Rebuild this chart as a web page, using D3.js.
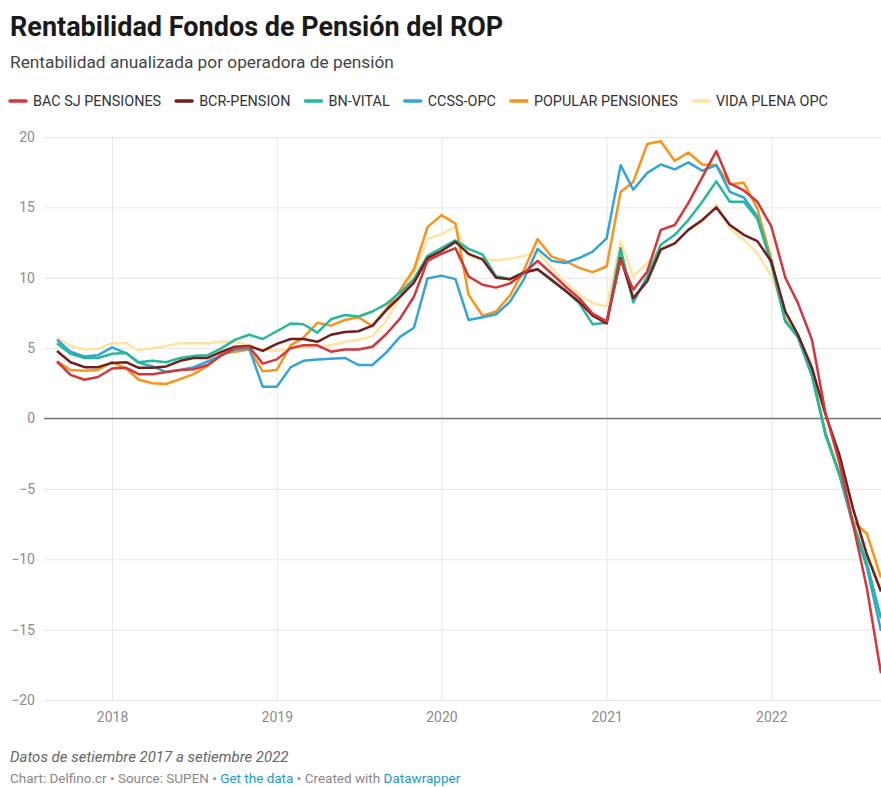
<!DOCTYPE html>
<html>
<head>
<meta charset="utf-8">
<script src="https://cdn.jsdelivr.net/npm/d3@7"></script>
<style>
  body { margin: 0; background: #fff; font-family: Roboto, "Noto Sans", sans-serif; }
  svg text { font-family: Roboto, "Noto Sans", sans-serif; }
</style>
</head>
<body>
<svg id="chart" width="881" height="787"></svg>
<script>
// monthly data, setiembre 2017 .. setiembre 2022
const firstMonth = new Date(2017, 8, 1);
const lastMonth = new Date(2022, 8, 1);

const seriesNames = ["BAC SJ PENSIONES", "BCR-PENSION", "BN-VITAL", "CCSS-OPC", "POPULAR PENSIONES", "VIDA PLENA OPC"];
const seriesColors = ["#d1373b", "#6e1f1c", "#27b799", "#32a5d6", "#f7941d", "#ffe3a3"];

const bacSj = [4.05, 3.1, 2.75, 2.95, 3.55, 3.6, 3.15, 3.15, 3.3, 3.45, 3.5, 3.8, 4.5,
  5.0, 5.1, 3.9, 4.2, 5.0, 5.2, 5.2, 4.75, 4.9, 4.9, 5.1, 6.0,
  7.1, 8.65, 11.2, 11.7, 12.1, 10.1, 9.5, 9.3, 9.6, 10.3, 11.2, 10.3,
  9.4, 8.55, 7.45, 6.9, 11.3, 9.15, 10.45, 13.4, 13.75, 15.3, 17.15, 19.0,
  16.7, 16.2, 15.4, 13.65, 10.0, 8.2, 5.6, 0.4, -3.15, -7.5, -12.1, -18.1];
const bcrPension = [4.8, 4.0, 3.65, 3.65, 3.95, 4.0, 3.6, 3.6, 3.7, 4.1, 4.3, 4.3, 4.75,
  5.1, 5.15, 4.8, 5.3, 5.65, 5.65, 5.45, 5.95, 6.15, 6.2, 6.6, 7.7,
  8.65, 9.65, 11.4, 11.9, 12.55, 11.7, 11.3, 10.0, 9.9, 10.35, 10.6, 9.85,
  9.1, 8.3, 7.3, 6.75, 11.4, 8.55, 9.75, 12.0, 12.45, 13.4, 14.1, 15.0,
  13.75, 13.05, 12.6, 11.15, 7.6, 5.95, 3.6, 0.3, -2.6, -6.4, -9.7, -12.3];
const bnVital = [5.35, 4.6, 4.3, 4.3, 4.6, 4.65, 4.0, 4.1, 4.0, 4.3, 4.45, 4.5, 5.0,
  5.6, 5.95, 5.65, 6.2, 6.75, 6.7, 6.1, 7.05, 7.35, 7.25, 7.6, 8.15,
  8.95, 9.9, 11.55, 12.1, 12.65, 12.05, 11.65, 10.1, 9.9, 10.4, 10.6, 9.8,
  9.1, 8.2, 6.7, 6.8, 12.1, 8.25, 10.1, 12.35, 13.05, 14.1, 15.4, 16.85,
  15.4, 15.4, 14.2, 11.0, 6.9, 5.85, 3.2, -1.2, -4.0, -7.4, -10.3, -14.2];
const ccssOpc = [5.6, 4.75, 4.4, 4.5, 5.05, 4.65, 3.95, 3.7, 3.3, 3.45, 3.65, 4.05, 4.5,
  4.9, 4.95, 2.25, 2.25, 3.65, 4.1, 4.2, 4.25, 4.3, 3.8, 3.8, 4.7,
  5.8, 6.45, 9.95, 10.15, 9.9, 7.0, 7.2, 7.4, 8.3, 9.85, 12.05, 11.2,
  11.05, 11.4, 11.85, 12.8, 18.0, 16.25, 17.45, 18.05, 17.7, 18.2, 17.6, 18.0,
  16.1, 15.7, 14.35, 11.0, 6.9, 5.75, 3.0, -1.1, -4.0, -7.6, -10.6, -15.1];
const popularPensiones = [4.05, 3.45, 3.4, 3.45, 4.0, 3.55, 2.75, 2.5, 2.45, 2.8, 3.15, 3.75, 4.6,
  4.75, 4.9, 3.35, 3.45, 5.2, 5.75, 6.8, 6.6, 7.0, 7.2, 6.55, 7.8,
  9.1, 10.6, 13.6, 14.45, 13.85, 8.8, 7.3, 7.6, 8.75, 10.5, 12.75, 11.5,
  11.2, 10.7, 10.4, 10.8, 16.1, 16.8, 19.5, 19.7, 18.3, 18.9, 18.05, 18.0,
  16.65, 16.75, 14.9, 11.3, 7.0, 5.8, 3.1, -1.0, -3.9, -7.3, -8.2, -11.3];
const vidaPlena = [5.75, 5.15, 4.9, 4.95, 5.35, 5.35, 4.85, 5.0, 5.15, 5.35, 5.35, 5.35, 5.45,
  5.45, 5.2, 4.9, 4.8, 4.95, 5.1, 5.1, 5.2, 5.45, 5.6, 5.85, 6.95,
  8.6, 10.35, 12.75, 13.1, 13.6, 11.6, 11.3, 11.25, 11.35, 11.55, 11.85, 10.7,
  9.7, 8.85, 8.2, 7.95, 12.6, 10.1, 11.05, 12.1, 12.45, 13.4, 14.0, 15.2,
  13.5, 12.7, 11.75, 10.1, 7.4, 5.8, 3.2, -1.0, -3.9, -7.4, -9.6, -12.0];

const seriesValues = [bacSj, bcrPension, bnVital, ccssOpc, popularPensiones, vidaPlena];

const yTicks = [-20, -15, -10, -5, 0, 5, 10, 15, 20];
const xTickYears = [2018, 2019, 2020, 2021, 2022];

const svg = d3.select("#chart");
const plotLeft = 44, plotRight = 881, plotTop = 137, plotBottom = 700;

// title block
svg.append("text").attr("x", 10).attr("y", 36)
  .attr("font-size", 27).attr("font-weight", 700).attr("fill", "#1a1a1a")
  .text("Rentabilidad Fondos de Pensión del ROP");
svg.append("text").attr("x", 10).attr("y", 68)
  .attr("font-size", 17.3).attr("fill", "#444")
  .text("Rentabilidad anualizada por operadora de pensión");

// legend
const legend = svg.append("g").attr("transform", "translate(10,101)");
let lx = 0;
seriesNames.forEach((name, i) => {
  const g = legend.append("g").attr("transform", `translate(${lx},0)`);
  g.append("line").attr("x1", 0).attr("x2", 16).attr("y1", 0).attr("y2", 0)
    .attr("stroke", seriesColors[i]).attr("stroke-width", 3.5).attr("stroke-linecap", "round");
  const t = g.append("text").attr("x", 23).attr("y", 5)
    .attr("font-size", 14.4).attr("fill", "#333").text(name);
  lx += 23 + t.node().getComputedTextLength() + 15;
});

const x = d3.scaleTime().domain([firstMonth, lastMonth]).range([57, plotRight]);
const y = d3.scaleLinear().domain([-20, 20]).range([plotBottom, plotTop]);

// y grid + labels
const yAxis = svg.append("g").attr("transform", `translate(${plotLeft},0)`)
  .call(d3.axisLeft(y).tickValues(yTicks).tickSize(-(plotRight - plotLeft)).tickFormat(d => d < 0 ? "\u2212" + Math.abs(d) : d));
yAxis.select(".domain").remove();
yAxis.selectAll(".tick line").attr("stroke", "#e6e6e6").attr("stroke-width", 1);
yAxis.selectAll(".tick text").attr("x", -9).attr("font-size", 14).attr("fill", "#8c8c8c")
  .attr("font-family", "Roboto");

// x grid + labels
const xAxis = svg.append("g").attr("transform", `translate(0,${plotBottom})`)
  .call(d3.axisBottom(x).tickValues(xTickYears.map(yr => new Date(yr, 0, 1)))
    .tickSize(-(plotBottom - plotTop)).tickFormat(d3.timeFormat("%Y")));
xAxis.select(".domain").remove();
xAxis.selectAll(".tick line").attr("stroke", "#e6e6e6").attr("stroke-width", 1);
xAxis.selectAll(".tick text").attr("y", 12).attr("font-size", 14).attr("fill", "#8c8c8c")
  .attr("font-family", "Roboto");

// zero baseline
svg.append("line").attr("x1", plotLeft).attr("x2", plotRight).attr("y1", y(0)).attr("y2", y(0))
  .attr("stroke", "#777").attr("stroke-width", 1.5);

// lines, yellow at the back, red on top
const months = d3.timeMonth.range(firstMonth, d3.timeMonth.offset(lastMonth, 1));
const line = d3.line().x((d, i) => x(months[i])).y(d => y(d));
const drawOrder = [5, 4, 3, 2, 1, 0];
svg.append("g").selectAll("path")
  .data(drawOrder)
  .join("path")
  .attr("d", k => line(seriesValues[k]))
  .attr("fill", "none")
  .attr("stroke", k => seriesColors[k])
  .attr("stroke-width", 2.5)
  .attr("stroke-linejoin", "round");

// footer
svg.append("text").attr("x", 10).attr("y", 762)
  .attr("font-size", 15).attr("font-style", "italic").attr("fill", "#666")
  .text("Datos de setiembre 2017 a setiembre 2022");
const foot = svg.append("text").attr("x", 10).attr("y", 783)
  .attr("font-size", 13.5).attr("fill", "#888");
foot.append("tspan").text("Chart: Delfino.cr • Source: SUPEN • ");
foot.append("tspan").attr("fill", "#1d9bc6").text("Get the data");
foot.append("tspan").text(" • Created with ");
foot.append("tspan").attr("fill", "#1d9bc6").text("Datawrapper");
</script>
</body>
</html>
